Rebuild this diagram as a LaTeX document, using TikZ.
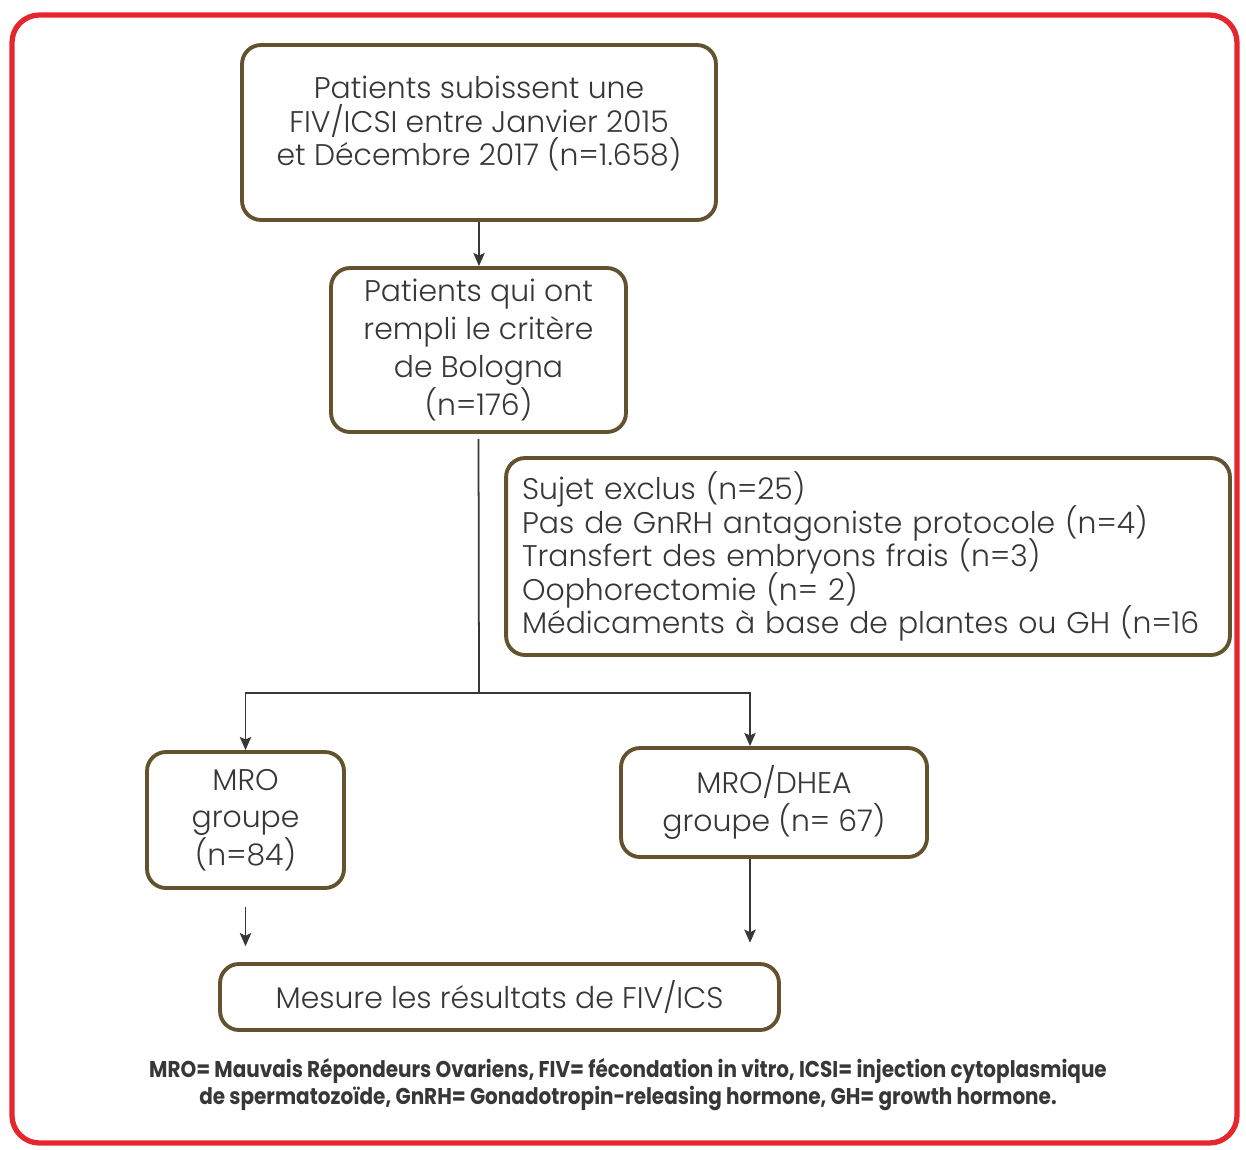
\documentclass[tikz,border=0pt]{standalone}
\usepackage{fontspec}
\setmainfont{Poppins}[UprightFont=* Light]
\newfontfamily\notefont{Poppins}[FakeStretch=0.875]
\usetikzlibrary{arrows.meta}
\definecolor{boxbrown}{RGB}{98,82,45}
\definecolor{framered}{RGB}{230,38,45}
\definecolor{inkgray}{RGB}{55,55,55}
\newcommand\boxfont[1]{\fontsize{17}{#1}\selectfont\lineskiplimit=-20pt\relax}
\begin{document}
\begin{tikzpicture}[x=0.02cm,y=-0.02cm]

	\tikzset{
	  flowbox/.style={
		draw=boxbrown,
		line width=2.2pt,
		rounded corners=0.38cm,
		align=center,
		text=inkgray,
		inner sep=0pt,
		font=\boxfont{21.5pt},
	  },
	  tight/.style={
		font=\boxfont{19.1pt},
	  },
	  link/.style={
		draw=inkgray,
		line width=1pt,
	  },
	  arr/.style={
		link,
		-{Stealth[length=7.5pt,width=6.5pt,inset=1.5pt]},
	  },
	}
	\useasboundingbox (0,0) rectangle (1246,1149);
	\draw[framered,line width=3pt,rounded corners=0.55cm] (12,15) rectangle (1237,1143);

	\node[flowbox,tight,minimum width=9.48cm,minimum height=3.5cm] (top) at (479,132.5)
		{Patients subissent une\\FIV/ICSI entre Janvier 2015\\et Décembre 2017 (n=1.658)\\[-6pt]\mbox{}};
	\node[flowbox,minimum width=5.9cm,minimum height=3.28cm] (crit) at (478.5,350)
		{Patients qui ont\\rempli le critère\\de Bologna\\(n=176)};
	\node[flowbox,tight,minimum width=14.48cm,minimum height=3.94cm,align=left,text width=13.84cm,inner xsep=0.32cm] (excl) at (868,556.5)
		{Sujet exclus (n=25)\\Pas de GnRH antagoniste protocole (n=4)\\Transfert des embryons frais (n=3)\\Oophorectomie (n= 2)\\Médicaments à base de plantes ou GH (n=16};
	\node[flowbox,minimum width=3.94cm,minimum height=2.72cm] (mro) at (245.5,820)
		{MRO\\groupe\\(n=84)};
	\node[flowbox,minimum width=6.12cm,minimum height=2.18cm] (dhea) at (774,802.5)
		{MRO/DHEA\\groupe (n= 67)};
	\node[flowbox,minimum width=11.18cm,minimum height=1.32cm] (res) at (499.5,997)
		{Mesure les résultats de FIV/ICS};
	\node[align=center,text=inkgray,font=\notefont\bfseries\fontsize{13}{15.4}\selectfont] (note) at (628,1085)
		{MRO= Mauvais Répondeurs Ovariens, FIV= fécondation in vitro, ICSI= injection cytoplasmique\\de spermatozoïde, GnRH= Gonadotropin-releasing hormone, GH= growth hormone.};

	\coordinate (split) at (479,693);
	\coordinate (fork) at (750,693);
	\draw[arr] (top.south) -- (top.south |- crit.north);
	\draw[link,shorten <=3pt] (crit.south) -- (split);
	\draw[arr] (split) -| (mro.north);
	\draw[arr] (split) -- (fork) -- (fork |- dhea.north);
	\draw[arr,shorten <=9.5pt,shorten >=9pt] (mro.south) -- (mro.south |- res.north);
	\draw[arr,shorten >=11pt] (fork |- dhea.south) -- (fork |- res.north);

\end{tikzpicture}
\end{document}
